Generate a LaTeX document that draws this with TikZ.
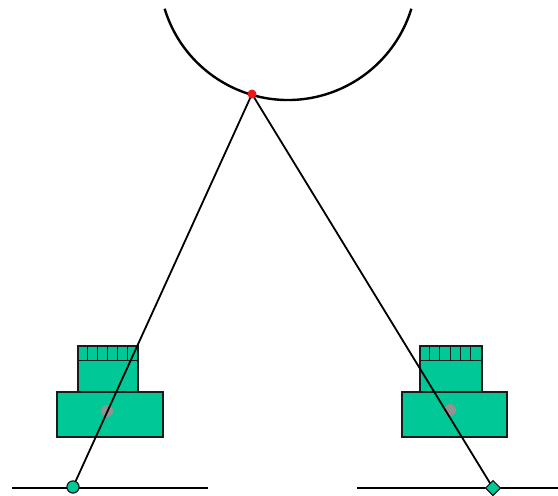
\documentclass[tikz,border=0pt]{standalone}
\usepackage{tikz}
\usetikzlibrary{calc,shapes.geometric}
\definecolor{lens}{HTML}{00C896}
\definecolor{rim}{HTML}{1A1A1A}
\definecolor{spot}{HTML}{E8181C}
\tikzset{
  housing/.style={rectangle,draw=rim,fill=lens,line width=1.6pt,inner sep=0pt},
  foot/.style={draw=rim,fill=lens,line width=1pt,inner sep=0pt,minimum size=12pt},
  ray/.style={draw=black,line width=1.8pt},
  floor/.style={draw=black,line width=2.6pt}
}

\begin{document}
\begin{tikzpicture}[x=1pt,y=-1pt]
\useasboundingbox (0,0) rectangle (558,496);
\draw[floor] (12,488) -- (208,488);
\draw[floor] (357,488) -- (558,488);
\foreach \c/\ux/\uw/\lx/\lw in {lcam/108/60/110/106,rcam/451/62/454.5/105}{
  \node[housing,minimum width=\lw,minimum height=45] (\c base) at (\lx,414.5) {};
  \node[housing,minimum width=\uw,minimum height=46] (\c top) at (\ux,369) {};
  \draw[rim,line width=1.3pt] ($(\c top.north west)+(0,15)$) -- ($(\c top.north east)+(0,15)$);
  \foreach \i in {1,...,5}
    \draw[rim,line width=1pt] ($(\c top.north west)+(\uw*\i/6,0)$) -- ++(0,15);
}
\fill[gray!85] (107,411) circle (6);
\fill[gray!85] (450,410) circle (6);
\coordinate (focus) at (252,94);
\node[foot,circle] (lfoot) at (73,487) {};
\node[foot,diamond,minimum size=15pt] (rfoot) at (493,488) {};
\draw[ray] (focus) -- (lfoot.center);
\draw[ray] (focus) -- (rfoot.center);
\node[foot,circle] at (lfoot) {};
\node[foot,diamond,minimum size=15pt] at (rfoot) {};
\draw[black,line width=2.4pt] (288,-29) ++(163:129) arc (163:17:129);
\fill[spot] (focus) circle (4.5);
\end{tikzpicture}
\end{document}
